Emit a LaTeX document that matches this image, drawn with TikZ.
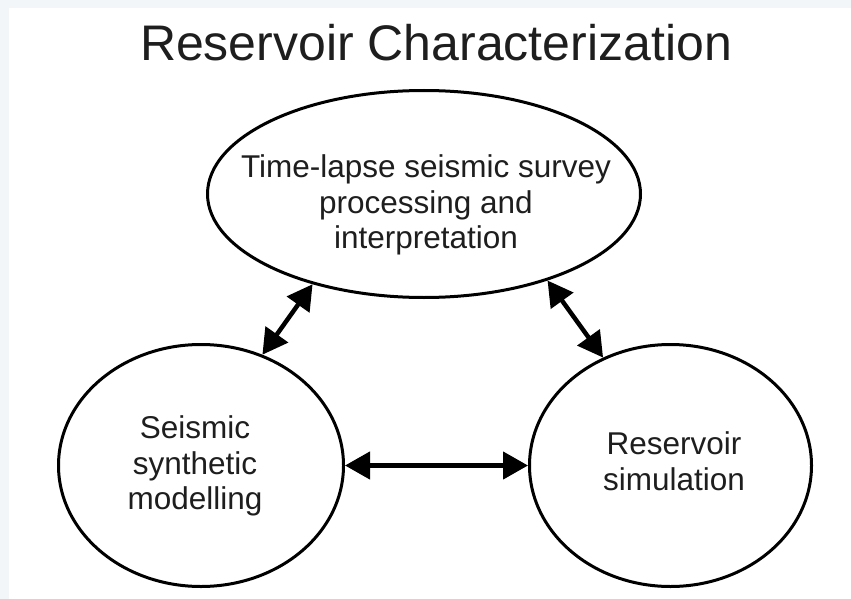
\documentclass[tikz,border=0pt]{standalone}
\usepackage{fontspec}
\setmainfont{Liberation Sans}
\usetikzlibrary{shapes.geometric,arrows.meta}
\definecolor{pagegray}{RGB}{242,246,249}
\definecolor{inktext}{RGB}{30,30,30}
\tikzset{
  bubble/.style={ellipse, draw=black, line width=3pt, fill=white, inner sep=0pt},
  bubbletext/.style={align=center, text=inktext, inner sep=0pt,
    font=\fontsize{31.5}{35.5}\selectfont},
  link/.style={line width=4.5pt, {Triangle[length=25pt,width=27pt]}-{Triangle[length=25pt,width=27pt]}},
}
\begin{document}
\begin{tikzpicture}[x=1pt,y=-1pt]
  % page frame and white drawing area
  \fill[pagegray] (0,0) rectangle (851,599);
  \fill[white] (9,8) rectangle (851,599);
  \useasboundingbox (0,0) rectangle (851,599);

  % heading
  \node[anchor=base, text=inktext, inner sep=0pt, font=\fontsize{50}{60}\selectfont]
    (heading) at (436,61) {Reservoir Characterization};

  % the three bubbles
  \node[bubble, minimum width=433pt, minimum height=207pt] (survey) at (424,194) {};
  \node[bubble, minimum width=285pt, minimum height=242pt] (synth) at (201,465.5) {};
  \node[bubble, minimum width=282pt, minimum height=242pt] (sim) at (670.5,465.5) {};

  % bubble texts
  \node[bubbletext] (surveytext) at (426,205) {Time-lapse seismic survey\\processing and\\interpretation};
  \node[bubbletext] (synthtext) at (195,466) {Seismic\\synthetic\\modelling};
  \node[bubbletext] (simtext) at (674,461) {Reservoir\\simulation};

  % two-way links
  \draw[link] (survey.219.9) -- (synth.61.7);
  \draw[link] (survey.325.1) -- (sim.122.1);
  \draw[link] (synth.east) -- (sim.west);
\end{tikzpicture}
\end{document}
